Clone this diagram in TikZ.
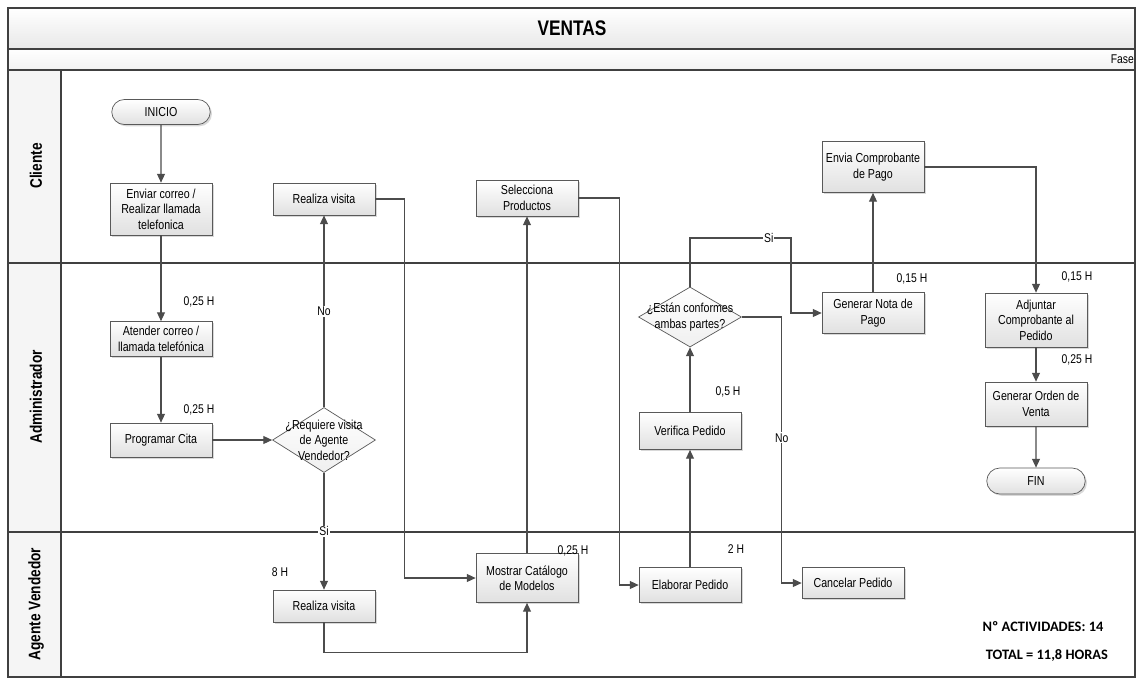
\documentclass[tikz,border=0pt]{standalone}
\usepackage{fontspec}
\setmainfont{Liberation Sans}[FakeStretch=0.82]
\newfontfamily\calibrifont{Carlito}
\usetikzlibrary{arrows.meta, shapes.geometric, shapes.misc, shadows}
\colorlet{lane edge}{black!75}
\colorlet{flow line}{black!70}
\colorlet{box edge}{black!65}
\tikzset{
  lane/.style={draw=lane edge, line width=0.6pt},
  bar/.style={lane, top color=white, bottom color=black!9},
  lanename/.style={rotate=90, font=\bfseries\fontsize{9.5}{10}\selectfont},
  box/.style={rectangle, draw=box edge, top color=white, bottom color=black!12,
    drop shadow={opacity=0.3, shadow xshift=1pt, shadow yshift=-1pt},
    minimum width=2.04cm, align=center, inner sep=1pt,
    font=\fontsize{7.4}{8.8}\selectfont},
  terminal/.style={box, rounded rectangle, minimum height=0.5cm},
  decision/.style={diamond, draw=box edge, top color=white, bottom color=black!6,
    inner sep=0pt, minimum width=2.06cm},
  dtext/.style={align=center, font=\fontsize{7.4}{8.8}\selectfont},
  hours/.style={font=\fontsize{7.2}{8.6}\selectfont},
  onln/.style={fill=white, inner sep=0.6pt, font=\fontsize{7.2}{8.6}\selectfont},
  flow/.style={draw=flow line, line width=0.6pt, -{Triangle[length=5pt,width=4.5pt]}},
  total/.style={font=\calibrifont\bfseries\fontsize{8.2}{9}\selectfont}
}
\begin{document}
\begin{tikzpicture}[x=0.02cm, y=-0.02cm]
  \useasboundingbox (0,0) rectangle (1136,677);
  \fill[white] (0,0) rectangle (1136,677);

  \draw[bar] (8,8) rectangle (1135,49);
  \draw[bar, bottom color=black!5] (8,49) rectangle (1135,70);
  \draw[lane, fill=black!4] (8,70) rectangle (61,677);
  \draw[lane] (61,70) rectangle (1135,677);
  \draw[lane] (8,263) -- (1135,263);
  \draw[lane] (8,532) -- (1135,532);
  \node[font=\bfseries\fontsize{12}{14}\selectfont] (titulo) at (572,28) {VENTAS};
  \node[hours, anchor=east, inner sep=1pt] (fase) at (1136,59) {Fase};

  \node[lanename] (cliente) at (36,166) {Cliente};
  \node[lanename] (admin) at (36,397) {Administrador};
  \node[lanename] (agente) at (36,604) {Agente Vendedor};

  \node[terminal] (inicio) at (161,112) {INICIO};
  \node[box, minimum height=1.04cm] (enviar) at (161,209) {Enviar correo /\\Realizar llamada\\telefonica};
  \node[box, minimum height=0.64cm] (visitaC) at (324,199) {Realiza visita};
  \node[box, minimum height=0.72cm] (selecc) at (527,198) {Selecciona\\Productos};
  \node[box, minimum height=1.02cm] (envia) at (873,167) {Envia Comprobante\\de Pago};

  \node[box, minimum height=0.70cm] (atender) at (161,339) {Atender correo /\\llamada telefónica};
  \node[box, minimum height=0.68cm] (programar) at (161,440) {Programar Cita};
  \node[decision, minimum height=1.30cm,
    label={[dtext]center:{¿Requiere visita\\de Agente\\Vendedor?}}] (requiere) at (324,440) {};
  \node[decision, minimum height=1.20cm,
    label={[dtext]center:{¿Están conformes\\ambas partes?}}] (conformes) at (690,317) {};
  \node[box, minimum height=0.74cm] (verifica) at (690,431) {Verifica Pedido};
  \node[box, minimum height=0.82cm] (nota) at (873,313) {Generar Nota de\\Pago};
  \node[box, minimum height=1.08cm] (adjuntar) at (1036,320) {Adjuntar\\Comprobante al\\Pedido};
  \node[box, minimum height=0.88cm] (orden) at (1036,404) {Generar Orden de\\Venta};
  \node[terminal, minimum height=0.52cm] (fin) at (1036,481) {FIN};

  \node[box, minimum height=0.64cm] (visitaA) at (324,606) {Realiza visita};
  \node[box, minimum height=0.98cm] (mostrar) at (527,578) {Mostrar Catálogo\\de Modelos};
  \node[box, minimum height=0.70cm] (elaborar) at (690,585) {Elaborar Pedido};
  \node[box, minimum height=0.62cm] (cancelar) at (853,583) {Cancelar Pedido};

  \node[hours] (h1) at (199,302) {0,25 H};
  \node[hours] (h2) at (199,410) {0,25 H};
  \node[hours] (h3) at (280,572) {8 H};
  \node[hours] (h4) at (573,551) {0,25 H};
  \node[hours] (h5) at (736,549) {2 H};
  \node[hours] (h6) at (728,392) {0,5 H};
  \node[hours] (h7) at (912,279) {0,15 H};
  \node[hours] (h8) at (1077,277) {0,15 H};
  \node[hours] (h9) at (1077,360) {0,25 H};

  \draw[flow] (inicio) -- (enviar);
  \draw[flow] (enviar) -- (atender);
  \draw[flow] (atender) -- (programar);
  \draw[flow] (programar) -- (requiere);
  \draw[flow] (requiere.north) -- node[onln, pos=0.5] (no1) {No} (visitaC.south);
  \draw[flow] (requiere.south) -- node[onln, pos=0.5] (si1) {Si} (visitaA.north);
  \draw[flow] (visitaC.east) -- ++(29,0) |- (mostrar.west);
  \draw[flow] (visitaA.south) -- ++(0,30) -| (mostrar.south);
  \draw[flow] (mostrar.north) -- (selecc.south);
  \draw[flow] (selecc.east) -- ++(41,0) |- (elaborar.west);
  \draw[flow] (elaborar) -- (verifica);
  \draw[flow] (verifica) -- (conformes.south);
  \draw[flow] (conformes.north) |- (791,238) node[onln, pos=0.89] (si2) {Si} |- (nota.west);
  \draw[flow] (conformes.east) -- ++(40,0) |- node[onln, pos=0.227] (no2) {No} (cancelar.west);
  \draw[flow] (nota) -- (envia);
  \draw[flow] (envia.east) -| (adjuntar.north);
  \draw[flow] (adjuntar) -- (orden);
  \draw[flow] (orden) -- (fin);

  \node[total] (nact) at (1043,627) {Nº ACTIVIDADES: 14};
  \node[total] (ntot) at (1047,655) {TOTAL = 11,8 HORAS};
\end{tikzpicture}
\end{document}
